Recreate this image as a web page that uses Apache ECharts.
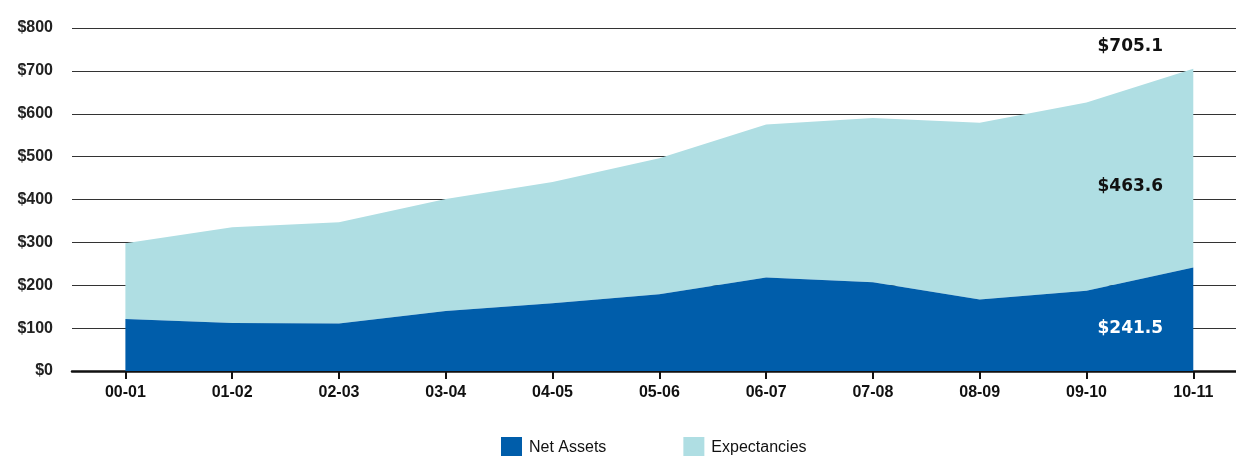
<!DOCTYPE html>
<html>
<head>
<meta charset="utf-8">
<script src="https://cdn.jsdelivr.net/npm/echarts@6/dist/echarts.min.js"></script>
<style>
  html, body { margin: 0; padding: 0; background: #fff; }
  #chart { width: 1236px; height: 456px; }
</style>
</head>
<body>
<div id="chart"></div>
<script>
// fiscal years
var years = ['00-01', '01-02', '02-03', '03-04', '04-05', '05-06', '06-07', '07-08', '08-09', '09-10', '10-11'];
// $ millions
var netAssets = [121, 112, 111, 140, 158, 179, 218, 207, 167, 187, 241.5];
var expectancies = [177, 223, 236, 261, 283, 317, 357, 383, 412, 439, 463.6];
var yTicks = [0, 100, 200, 300, 400, 500, 600, 700, 800];

var last = years.length - 1;
var total = Math.round((netAssets[last] + expectancies[last]) * 10) / 10;
var idx = years.map(function (y, i) { return i; });

// [value, index] so the value dim is the one that gets stacked
function rows(arr) {
  return arr.map(function (v, i) { return [v, i]; });
}

var chart = echarts.init(document.getElementById('chart'));

var option = {
  animation: false,
  grid: { left: 72, right: 0, top: 28, bottom: 85 },
  legend: {
    left: 496, top: 432,
    icon: 'rect', itemWidth: 21, itemHeight: 21, itemGap: 77,
    textStyle: { fontFamily: 'Liberation Sans', fontSize: 16, color: '#111', padding: [3, 0, 0, 2] },
    data: ['Net Assets', 'Expectancies']
  },
  // value axis so the plot can run a little past the right edge like the original
  xAxis: {
    type: 'value',
    min: -0.5, max: 10.4,
    splitLine: { show: false },
    axisLine: { show: true, onZero: false, lineStyle: { color: '#111', width: 2.5 } },
    axisTick: { show: true, customValues: idx, length: 8, lineStyle: { color: '#111', width: 2 } },
    axisLabel: {
      customValues: idx,
      fontFamily: 'Liberation Sans', fontWeight: 'bold', fontSize: 16, color: '#111', margin: 14,
      formatter: function (v) { return years[Math.round(v)]; }
    }
  },
  yAxis: {
    type: 'value',
    min: yTicks[0], max: yTicks[yTicks.length - 1], interval: 100,
    axisLine: { show: false },
    axisTick: { show: false },
    axisLabel: {
      fontFamily: 'Liberation Sans', fontWeight: 'bold', fontSize: 16, color: '#222', margin: 19,
      formatter: function (v) { return '$' + v; }
    },
    splitLine: { lineStyle: { color: '#333', width: 1 } }
  },
  series: [
    {
      name: 'Net Assets',
      type: 'line',
      stack: 'all',
      data: rows(netAssets),
      encode: { x: 1, y: 0 },
      symbol: 'circle', symbolSize: 0.01, showSymbol: true, showAllSymbol: true,
      lineStyle: { width: 0 },
      itemStyle: { color: '#005DAA' },
      areaStyle: { color: '#005DAA', opacity: 1 },
      label: {
        show: true, position: 'inside', offset: [-63, 61],
        fontFamily: 'DejaVu Sans', fontWeight: 'bold', fontSize: 17, color: '#fff',
        formatter: function (p) { return p.dataIndex === last ? '$' + p.value[0] : ''; }
      },
      z: 3
    },
    {
      name: 'Expectancies',
      type: 'line',
      stack: 'all',
      data: rows(expectancies),
      encode: { x: 1, y: 0 },
      symbol: 'circle', symbolSize: 0.01, showSymbol: true, showAllSymbol: true,
      lineStyle: { width: 0 },
      itemStyle: { color: '#AFDEE3' },
      areaStyle: { color: '#AFDEE3', opacity: 1 },
      label: {
        show: true, position: 'inside', offset: [-63, 118],
        fontFamily: 'DejaVu Sans', fontWeight: 'bold', fontSize: 17, color: '#111',
        formatter: function (p) { return p.dataIndex === last ? '$' + p.value[0] : ''; }
      },
      markPoint: {
        symbol: 'circle', symbolSize: 0,
        label: {
          show: true, position: 'inside', offset: [-63, -22],
          fontFamily: 'DejaVu Sans', fontWeight: 'bold', fontSize: 17, color: '#111',
          formatter: '$' + total
        },
        data: [{ coord: [last, total] }]
      },
      z: 2
    }
  ]
};

chart.setOption(option);
</script>
</body>
</html>
